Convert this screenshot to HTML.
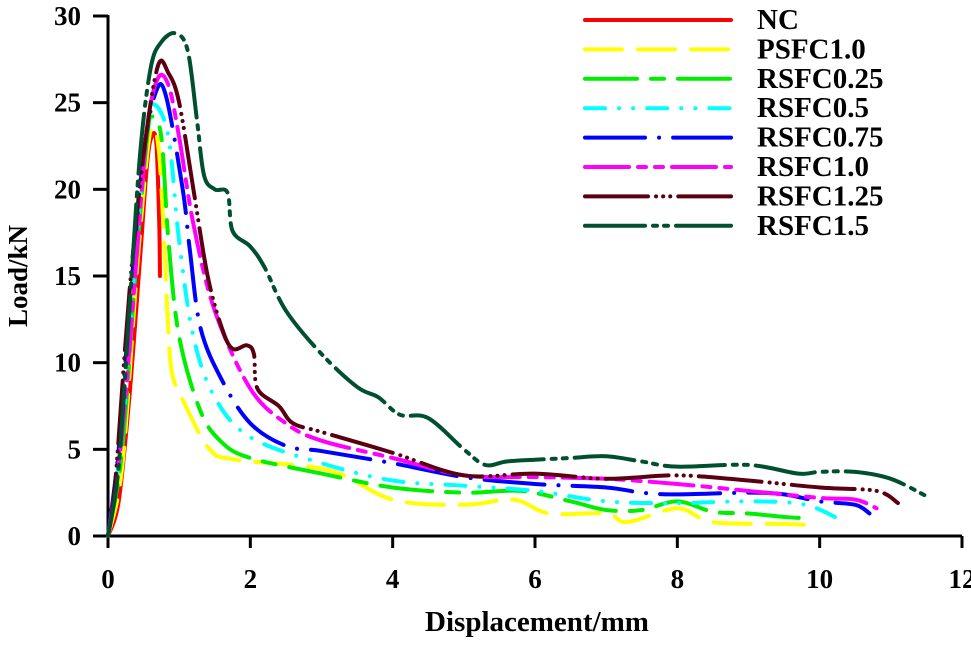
<!DOCTYPE html>
<html><head><meta charset="utf-8"><style>
body{margin:0;background:#fff}
svg text{font-family:"Liberation Serif",serif;font-weight:bold;fill:#000}
</style></head><body>
<svg width="971" height="641" viewBox="0 0 971 641">
<g id="axes"></g>
<g id="series"></g>
<g id="legend"></g>
<text x="537" y="631" font-size="29" text-anchor="middle">Displacement/mm</text>
<text transform="translate(27,276) rotate(-90)" font-size="27" text-anchor="middle">Load/kN</text>
</svg>
<script>
const xTicks=[0,2,4,6,8,10,12];
const yTicks=[0,5,10,15,20,25,30];
const seriesNames=["NC","PSFC1.0","RSFC0.25","RSFC0.5","RSFC0.75","RSFC1.0","RSFC1.25","RSFC1.5"];
const seriesColors=["#ff0000","#ffff00","#00ee00","#00ffff","#0000ff","#ff00ff","#5a0010","#005030"];
const seriesDash=["","37 16","52 14 13 14","20 14 0.1 14 0.1 14","60 14 0.1 14","44 9 8 9 8 9","63 8 0.1 7 0.1 7 0.1 8","60 8 4 7 4 8"];
const dNC=[[0,0],[0.15,2],[0.3,8],[0.45,16],[0.55,21.5],[0.62,23.1],[0.68,22.6],[0.72,18],[0.73,15]];
const dPSFC10=[[0,0],[0.2,4],[0.4,15],[0.55,22],[0.63,23.6],[0.72,22],[0.8,16],[0.84,12.5],[0.9,9.4],[1.08,7.6],[1.43,5],[1.8,4.4],[3.1,3.8],[4,2.1],[5,1.8],[5.7,2.1],[6.2,1.3],[7,1.3],[7.3,0.8],[8,1.6],[8.5,0.8],[9.5,0.7],[10,0.6]];
const dRSFC025=[[0,0],[0.2,5],[0.4,16],[0.55,23],[0.62,24.2],[0.75,23],[0.85,17],[1.0,11.5],[1.3,7.2],[1.6,5.4],[2,4.5],[3,3.6],[4,2.8],[5,2.5],[5.8,2.6],[6.5,2],[7,1.5],[7.5,1.5],[8,2.0],[8.5,1.4],[9,1.3],[9.5,1.1],[9.9,1.0]];
const dRSFC05=[[0,0],[0.2,6],[0.4,17],[0.55,23.5],[0.65,24.9],[0.85,23],[1.0,17],[1.2,11.5],[1.5,8],[2,5.7],[3,4.2],[4,3.2],[5,2.9],[6,2.6],[7,2.0],[8,1.9],[9,2.0],[9.8,1.8],[10.35,0.8]];
const dRSFC075=[[0,0],[0.15,5],[0.3,13],[0.5,22],[0.68,25.7],[0.82,25.3],[1.05,20],[1.15,16.5],[1.3,12],[1.6,9],[2,6.5],[2.5,5.2],[3,4.9],[4,4.2],[5,3.4],[6,3.0],[7,2.8],[7.5,2.5],[8,2.4],[9,2.5],[9.5,2.4],[10,2.0],[10.5,1.8],[10.7,1.3]];
const dRSFC10=[[0,0],[0.2,6],[0.4,16],[0.55,23.5],[0.7,26.4],[0.85,26],[1.0,23],[1.2,18],[1.5,13],[2,8.5],[2.5,6.5],[3,5.5],[4,4.5],[5,3.5],[6,3.4],[7,3.3],[8,3.0],[9,2.6],[10,2.2],[10.5,2.1],[10.8,1.6]];
const dRSFC125=[[0,0],[0.1,3],[0.3,14],[0.5,22],[0.7,27.1],[0.85,26.7],[1.0,25],[1.2,20],[1.4,15],[1.6,12],[1.75,10.8],[1.95,11],[2.05,10.5],[2.1,8.5],[2.4,7.5],[2.6,6.5],[3,6],[4,4.8],[5,3.5],[6,3.6],[7,3.3],[8,3.5],[9,3.2],[10,2.8],[10.8,2.6],[11.1,1.9]];
const dRSFC15=[[0,0],[0.15,4],[0.3,13],[0.45,22],[0.6,27],[0.75,28.5],[0.95,29],[1.12,28],[1.25,24],[1.35,20.8],[1.5,20],[1.68,19.8],[1.75,17.6],[2,16.7],[2.2,15.5],[2.5,13],[3,10.5],[3.5,8.6],[3.8,8],[4.1,7],[4.5,6.8],[5,5],[5.3,4.1],[5.6,4.3],[6,4.4],[6.5,4.5],[7,4.6],[7.5,4.3],[8,4.0],[9,4.1],[9.7,3.6],[10,3.7],[10.5,3.7],[11,3.3],[11.5,2.3]];
const allData=[dNC,dPSFC10,dRSFC025,dRSFC05,dRSFC075,dRSFC10,dRSFC125,dRSFC15];
const X0=108,X1=962,Y0=536,Y1=16;
function sx(v){return X0+(X1-X0)*v/12;}
function sy(v){return Y0-(Y0-Y1)*v/30;}
const NS="http://www.w3.org/2000/svg";
function mk(t,a,p){const e=document.createElementNS(NS,t);for(const k in a)e.setAttribute(k,a[k]);p.appendChild(e);return e;}
const ax=document.getElementById('axes');
let e=mk('line',{x1:X0,y1:Y0,x2:X1,y2:Y0,stroke:'#000','stroke-width':3},ax);


e=mk('line',{x1:X0,y1:Y0+1.5,x2:X0,y2:Y1-1,stroke:'#000','stroke-width':3},ax);


xTicks.forEach(t=>{
 let l=mk('line',{x1:sx(t),y1:Y0,x2:sx(t),y2:Y0+12,stroke:'#000','stroke-width':3},ax);
 
 
 let tx=mk('text',{x:sx(t),y:588,'font-size':27,'text-anchor':'middle'},ax);tx.textContent=t;
 
 
});
yTicks.forEach(t=>{
 let l=mk('line',{x1:X0-15,y1:sy(t),x2:X0,y2:sy(t),stroke:'#000','stroke-width':3},ax);
 
 
 let tx=mk('text',{x:81,y:sy(t)+9,'font-size':27,'text-anchor':'end'},ax);tx.textContent=t;
 
 
});
function pathD(d){const p=d.map(q=>[sx(q[0]),sy(q[1])]);let s='M'+p[0][0]+','+p[0][1];
 for(let i=0;i<p.length-1;i++){const a=p[i-1]||p[i],b=p[i],c=p[i+1],n=p[i+2]||c;
  const c1=[b[0]+(c[0]-a[0])/6,b[1]+(c[1]-a[1])/6],c2=[c[0]-(n[0]-b[0])/6,c[1]-(n[1]-b[1])/6];
  s+=' C'+c1+' '+c2+' '+c;}return s;}
const sg=document.getElementById('series');
const lg=document.getElementById('legend');
allData.forEach((d,i)=>{
 let p=mk('path',{d:pathD(d),fill:'none',stroke:seriesColors[i],'stroke-width':4,'stroke-linecap':'round','stroke-dasharray':seriesDash[i]},sg);
 
 
 const y=20+i*29.4;
 let l=mk('line',{x1:585,y1:y,x2:731,y2:y,stroke:seriesColors[i],'stroke-width':4,'stroke-linecap':'round','stroke-dasharray':seriesDash[i]},lg);
 
 
 let t=mk('text',{x:757,y:y+9,'font-size':29},lg);t.textContent=seriesNames[i];
 
 
});
</script>
</body></html>
